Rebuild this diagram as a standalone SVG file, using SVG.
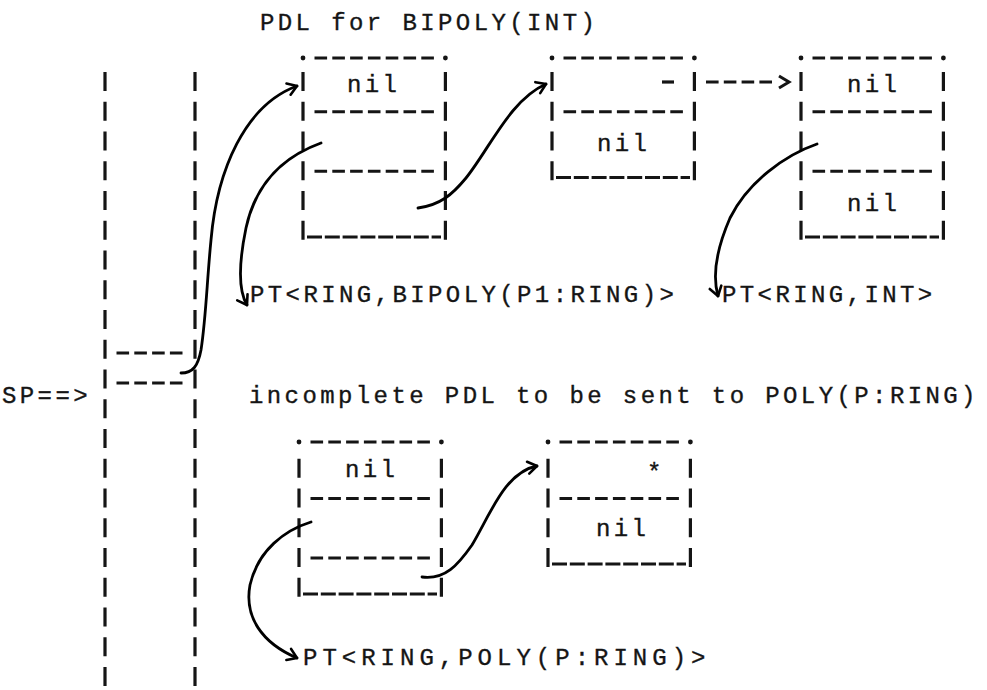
<svg xmlns="http://www.w3.org/2000/svg" width="987" height="690" viewBox="0 0 987 690">
<defs>
<style>
.t{font-family:"Liberation Mono","DejaVu Sans Mono",monospace;font-size:24px;letter-spacing:3.4px;fill:#151515;stroke:#151515;stroke-width:0.35}
.v{stroke:#151515;stroke-width:3.2;stroke-dasharray:19 10.75;fill:none}
.h{stroke:#151515;stroke-width:3.2;stroke-dasharray:12.6 5.2;fill:none}
.u{stroke:#151515;stroke-width:3.2;stroke-dasharray:15 2.8;fill:none}
.c{stroke:#000;stroke-width:2.8;fill:none;stroke-linecap:round;marker-end:url(#ah)}
.d{fill:#151515}
</style>
<marker id="ah" viewBox="-12 -8 14 16" markerWidth="14" markerHeight="16" refX="0" refY="0" orient="auto" markerUnits="userSpaceOnUse">
<path d="M -9 -6 L 0 0 L -9 6" fill="none" stroke="#000" stroke-width="2.6" stroke-linecap="round" stroke-linejoin="round"/>
</marker>
</defs>
<rect width="987" height="690" fill="#fff"/>

<text class="t" x="260" y="30">PDL for BIPOLY(INT)</text>

<g id="stack">
<line class="v" x1="105" y1="72" x2="105" y2="687"/>
<line class="v" x1="195" y1="72" x2="195" y2="687"/>
<line class="h" x1="116.5" y1="353" x2="183" y2="353"/>
<line class="h" x1="116.5" y1="383" x2="183" y2="383"/>
<text class="t" x="2" y="403">SP==&gt;</text>
</g>

<g id="box1">
<circle class="d" cx="303" cy="58" r="2.4"/><circle class="d" cx="445.4" cy="58" r="2.4"/>
<line class="h" x1="314.5" y1="58" x2="434" y2="58"/>
<line class="v" x1="303" y1="72" x2="303" y2="240"/>
<line class="v" x1="445.4" y1="72" x2="445.4" y2="240"/>
<line class="h" x1="314.5" y1="111.75" x2="434" y2="111.75"/>
<line class="h" x1="314.5" y1="171.25" x2="434" y2="171.25"/>
<line class="u" x1="307" y1="237" x2="441" y2="237"/>
<text class="t" x="347" y="92">nil</text>
</g>

<g id="box2">
<circle class="d" cx="552" cy="58" r="2.4"/><circle class="d" cx="694.4" cy="58" r="2.4"/>
<line class="h" x1="563.5" y1="58" x2="683" y2="58"/>
<line class="v" x1="552" y1="72" x2="552" y2="181"/>
<line class="v" x1="694.4" y1="72" x2="694.4" y2="181"/>
<line class="h" x1="563.5" y1="111.75" x2="683" y2="111.75"/>
<line class="u" x1="556" y1="177.5" x2="690" y2="177.5"/>
<text class="t" x="597" y="151">nil</text>
</g>

<g id="box3">
<circle class="d" cx="801" cy="58" r="2.4"/><circle class="d" cx="943.4" cy="58" r="2.4"/>
<line class="h" x1="812.5" y1="58" x2="932" y2="58"/>
<line class="v" x1="801" y1="72" x2="801" y2="240"/>
<line class="v" x1="943.4" y1="72" x2="943.4" y2="240"/>
<line class="h" x1="812.5" y1="111.75" x2="932" y2="111.75"/>
<line class="h" x1="812.5" y1="171.25" x2="932" y2="171.25"/>
<line class="u" x1="805" y1="237" x2="939" y2="237"/>
<text class="t" x="847" y="92">nil</text>
<text class="t" x="847" y="211">nil</text>
</g>

<text class="t" x="250" y="302">PT&lt;RING,BIPOLY(P1:RING)&gt;</text>
<text class="t" x="722" y="302">PT&lt;RING,INT&gt;</text>
<text class="t" x="249" y="403">incomplete PDL to be sent to POLY(P:RING)</text>

<g id="box4">
<circle class="d" cx="299" cy="442" r="2.4"/><circle class="d" cx="441.4" cy="442" r="2.4"/>
<line class="h" x1="310.5" y1="442" x2="430" y2="442"/>
<line class="v" x1="299" y1="458.75" x2="299" y2="597"/>
<line class="v" x1="441.4" y1="458.75" x2="441.4" y2="597"/>
<line class="h" x1="310.5" y1="498.5" x2="430" y2="498.5"/>
<line class="h" x1="310.5" y1="558" x2="430" y2="558"/>
<line class="u" x1="303" y1="594" x2="437" y2="594"/>
<text class="t" x="345" y="477">nil</text>
</g>

<g id="box5">
<circle class="d" cx="548" cy="442" r="2.4"/><circle class="d" cx="690.4" cy="442" r="2.4"/>
<line class="h" x1="559.5" y1="442" x2="679" y2="442"/>
<line class="v" x1="548" y1="458.75" x2="548" y2="568"/>
<line class="v" x1="690.4" y1="458.75" x2="690.4" y2="568"/>
<line class="h" x1="559.5" y1="498.5" x2="679" y2="498.5"/>
<line class="u" x1="552" y1="564" x2="686" y2="564"/>
<text class="t" x="647" y="480">*</text>
<text class="t" x="596" y="536">nil</text>
</g>

<text class="t" x="303" y="665" style="letter-spacing:5px">PT&lt;RING,POLY(P:RING)&gt;</text>

<g id="connectors">
<path class="c" d="M 181 373 C 193 373, 198 366, 201 350 C 206 318, 207 280, 211 240 C 217 170, 245 105, 297 86"/>
<path class="c" d="M 321 143 C 285 156, 256 182, 246 228 C 239 262, 238 290, 247 305"/>
<path class="c" d="M 418 208 C 440 205, 452 195, 466 178 C 490 148, 510 100, 546 84"/>
<path class="c" d="M 817 144 C 785 155, 748 182, 730 218 C 717 248, 712 275, 718 296"/>
<path class="c" d="M 311 522 C 285 530, 258 550, 250 585 C 244 617, 262 643, 297 658"/>
<path class="c" d="M 422 577 C 445 580, 458 565, 472 545 C 490 515, 505 472, 537 466"/>
<line x1="662" y1="82" x2="674" y2="82" stroke="#151515" stroke-width="3.2"/>
<line class="h" x1="706" y1="82" x2="775" y2="82"/>
<path d="M 779 76 L 789 82 L 779 88" fill="none" stroke="#151515" stroke-width="3"/>
</g>
</svg>
